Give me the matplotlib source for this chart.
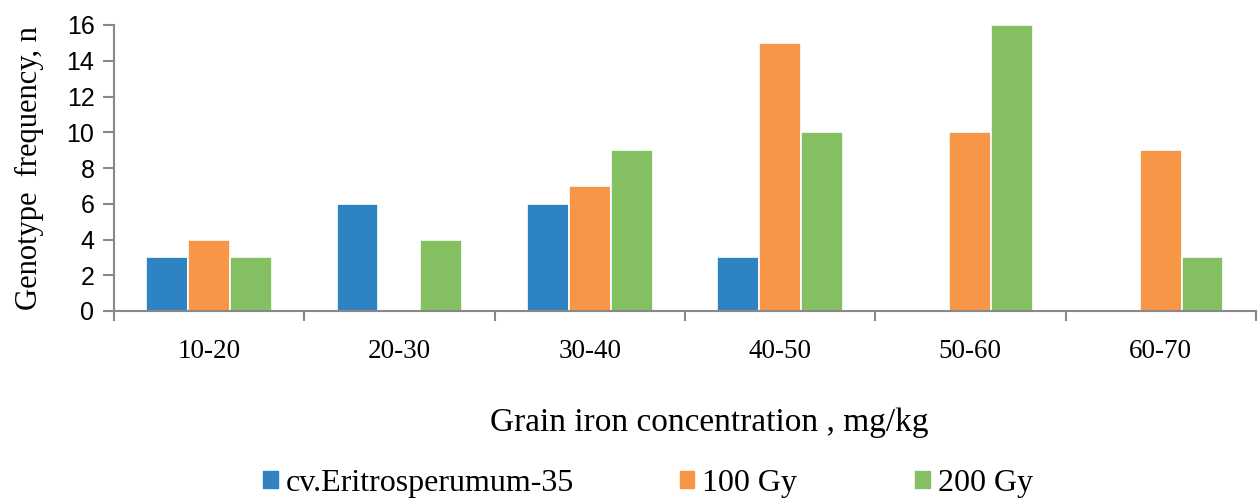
import matplotlib.pyplot as plt
import numpy as np
from matplotlib.patches import Patch

# data
categories = ["10-20", "20-30", "30-40", "40-50", "50-60", "60-70"]
series_names = ["cv.Eritrosperumum-35", "100 Gy", "200 Gy"]
control = [3, 6, 6, 3, 0, 0]
gy100 = [4, 0, 7, 15, 10, 9]
gy200 = [3, 4, 9, 10, 16, 3]
y_ticks = [0, 2, 4, 6, 8, 10, 12, 14, 16]

colors = ["#2E84C3", "#F79646", "#84C062"]
serif = "Liberation Serif"
sans = "Liberation Sans"


def main():
    fig = plt.figure(figsize=(12.59, 5), dpi=100)
    ax = fig.add_axes([0.0905, 0.378, 0.907, 0.572])

    x = np.arange(len(categories))
    w = 0.22
    for i, vals in enumerate([control, gy100, gy200]):
        ax.bar(x + (i - 1) * w, vals, width=w, color=colors[i],
               edgecolor="white", linewidth=1.2)

    ax.set_xlim(-0.5, len(categories) - 0.5)
    ax.set_ylim(0, 16)
    ax.set_yticks(y_ticks)
    ax.set_yticklabels([str(t) for t in y_ticks], fontfamily=sans, fontsize=18)

    # group boundaries get the tick marks, labels sit in the middle
    ax.set_xticks(np.arange(len(categories) + 1) - 0.5)
    ax.set_xticklabels([])
    ax.set_xticks(x, minor=True)
    ax.set_xticklabels(categories, minor=True, fontfamily=serif, fontsize=19.5)
    ax.tick_params(axis="x", which="minor", length=0, pad=20)
    ax.tick_params(axis="x", which="major", length=7, width=1.5, color="#888888")
    ax.tick_params(axis="y", length=8, width=1.5, color="#888888", pad=6)

    for s in ["top", "right"]:
        ax.spines[s].set_visible(False)
    for s in ["left", "bottom"]:
        ax.spines[s].set_color("#888888")
        ax.spines[s].set_linewidth(1.5)

    ax.set_ylabel("Genotype  frequency, n", fontfamily=serif, fontsize=22, labelpad=16)
    fig.text(0.563, 0.154, "Grain iron concentration , mg/kg",
             fontfamily=serif, fontsize=24, ha="center", va="center")

    # three legend entries placed separately
    lx = [0.209, 0.540, 0.727]
    for i, name in enumerate(series_names):
        fig.legend(handles=[Patch(color=colors[i])], labels=[name],
                   loc="center left", bbox_to_anchor=(lx[i], 0.034),
                   frameon=False, borderpad=0, borderaxespad=0,
                   handlelength=0.45, handleheight=0.45,
                   handletextpad=0.25, prop={"family": serif, "size": 23})

    fig.savefig("out.png", dpi=100)


if __name__ == "__main__":
    main()
